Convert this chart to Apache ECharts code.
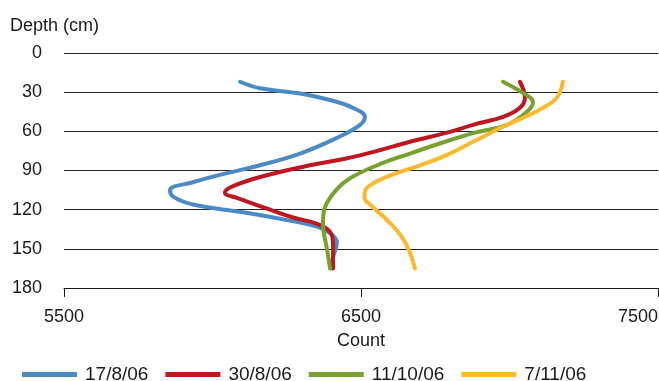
<!DOCTYPE html>
<html><head><meta charset="utf-8">
<script src="https://cdn.jsdelivr.net/npm/echarts@6/dist/echarts.min.js"></script>
<style>html,body{margin:0;padding:0;background:#fff}#c{width:659px;height:381px}</style>
</head><body><div id="c"></div>
<script>
var FONT = '"Liberation Sans", Arial, sans-serif';
var FS = 18;
var seriesNames = ['17/8/06', '30/8/06', '11/10/06', '7/11/06'];
var seriesColors = ['#4A8BC6', '#C0161F', '#78A22F', '#FDB92B'];
var xTicks = [5500, 6500, 7500];
var depthTicks = [0, 30, 60, 90, 120, 150, 180];
// [count, depth]
var d1708 = [[6093,22],[6160,27],[6295,31],[6396,36],[6473,42],[6513,49],[6497,55],[6419,65],[6295,77],[6160,86],[6049,92],[5934,99],[5857,105],[5867,110],[5934,116],[6103,122],[6251,128],[6352,133],[6396,138],[6419,145],[6406,156],[6396,165]];
var d3008 = [[7035,22],[7052,34],[7035,42],[6978,49],[6877,55],[6790,61],[6665,68],[6554,75],[6446,81],[6328,86],[6160,95],[6059,103],[6042,107],[6082,111],[6194,120],[6271,126],[6355,131],[6396,137],[6406,147],[6406,165]];
var d1110 = [[6978,22],[7069,34],[7079,38],[7059,45],[6992,55],[6884,61],[6783,68],[6665,77],[6554,86],[6463,96],[6416,105],[6379,118],[6372,130],[6386,151],[6396,165]];
var d0711 = [[7180,22],[7160,34],[7113,42],[7052,49],[6992,55],[6877,68],[6790,78],[6699,86],[6608,93],[6540,100],[6513,106],[6512,111],[6530,116],[6588,128],[6638,141],[6665,153],[6682,165]];
var allData = [d1708, d3008, d1110, d0711];

var chart = echarts.init(document.getElementById('c'), null, {renderer: 'canvas'});
chart.setOption({
  animation: false,
  textStyle: {fontFamily: FONT},
  title: {text: 'Depth (cm)', left: 10, top: 17, padding: 0, textStyle: {fontFamily: FONT, fontSize: FS, fontWeight: 'normal', color: '#1a1a1a'}},
  grid: {left: 64, right: 1, top: 53, bottom: 93, containLabel: false, outerBoundsMode: 'none'},
  xAxis: {
    type: 'value', min: 5500, max: 7500,
    name: 'Count', nameLocation: 'middle', nameGap: 44, nameMoveOverlap: false,
    nameTextStyle: {fontFamily: FONT, fontSize: FS, color: '#1a1a1a'},
    axisLine: {show: true, onZero: false, lineStyle: {color: '#1a1a1a', width: 1}},
    axisTick: {show: true, length: 9, customValues: xTicks, lineStyle: {color: '#1a1a1a'}},
    axisLabel: {customValues: xTicks, margin: 20, alignMaxLabel: 'right', fontFamily: FONT, fontSize: FS, color: '#1a1a1a', formatter: function (v) { return String(v); }},
    splitLine: {show: false}
  },
  yAxis: {
    type: 'value', inverse: true, min: 0, max: 180, interval: 30,
    axisLine: {show: false, onZero: false}, axisTick: {show: false},
    axisLabel: {margin: 22, fontFamily: FONT, fontSize: FS, color: '#1a1a1a', formatter: function (v) { return String(v); }},
    splitLine: {show: true, lineStyle: {color: '#222', width: 1}}
  },
  legend: {
    left: 22, top: 365, padding: 0, itemWidth: 55, itemHeight: 5, itemGap: 17, icon: 'rect',
    textStyle: {fontFamily: FONT, fontSize: 19, color: '#1a1a1a', padding: [0,0,0,3]},
    data: seriesNames
  },
  series: allData.map(function (d, i) {
    return {
      name: seriesNames[i], type: 'line', data: d, smooth: 0.4,
      showSymbol: false, symbol: 'none', color: seriesColors[i],
      lineStyle: {width: 4, color: seriesColors[i], cap: 'round', join: 'round'}
    };
  })
});
</script></body></html>
